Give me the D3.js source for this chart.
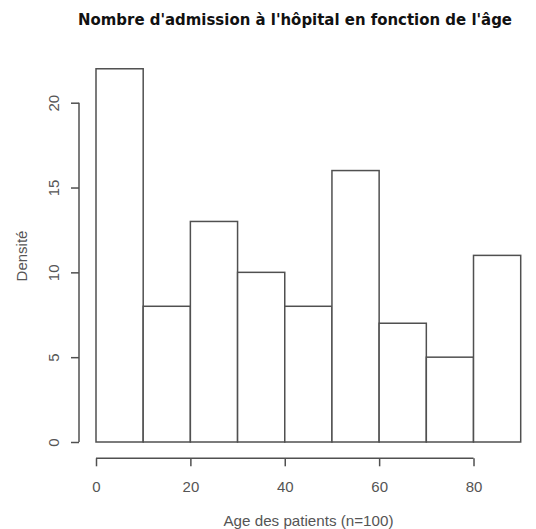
<!DOCTYPE html>
<html>
<head>
<meta charset="utf-8">
<script src="https://cdn.jsdelivr.net/npm/d3@7"></script>
<style>
    body { margin: 0; background: #fff; }
    svg { display: block; font-family: "Liberation Sans", Arial, sans-serif; }
</style>
</head>
<body>
<svg width="536" height="529"></svg>
<script>
    // histogram bins (age classes) and counts
    var binStarts = [0, 10, 20, 30, 40, 50, 60, 70, 80];
    var binWidth = 10;
    var counts = [22, 8, 13, 10, 8, 16, 7, 5, 11];
    var xTicks = [0, 20, 40, 60, 80];
    var yTicks = [0, 5, 10, 15, 20];

    var svg = d3.select("svg");

    var x = d3.scaleLinear().domain([0, 90]).range([96, 520.7]);
    var y = d3.scaleLinear().domain([0, 20]).range([442, 102.7]);

    var data = binStarts.map(function (b, i) { return {x0: b, x1: b + binWidth, n: counts[i]}; });

    svg.append("g")
        .selectAll("rect")
        .data(data)
        .enter().append("rect")
        .attr("x", function (d) { return x(d.x0); })
        .attr("y", function (d) { return y(d.n); })
        .attr("width", function (d) { return x(d.x1) - x(d.x0); })
        .attr("height", function (d) { return y(0) - y(d.n); })
        .attr("fill", "#fff")
        .attr("stroke", "#505050")
        .attr("stroke-width", 1.5);

    // x axis (R style: detached below plot)
    var gx = svg.append("g")
        .attr("transform", "translate(0,458.3)")
        .call(d3.axisBottom(x).tickValues(xTicks).tickSize(8).tickSizeOuter(0));
    gx.select(".domain").attr("d", "M" + x(0) + ",0H" + x(80)).attr("stroke", "#505050").attr("stroke-width", 1.5);
    gx.selectAll(".tick line").attr("stroke", "#505050").attr("stroke-width", 1.5);
    gx.selectAll(".tick text")
        .attr("fill", "#555")
        .attr("font-size", 15)
        .attr("y", 34)
        .attr("dy", null);

    // y axis
    var gy = svg.append("g")
        .attr("transform", "translate(79,0)")
        .call(d3.axisLeft(y).tickValues(yTicks).tickSize(8).tickSizeOuter(0));
    gy.select(".domain").attr("d", "M0," + y(0) + "V" + y(20)).attr("stroke", "#505050").attr("stroke-width", 1.5);
    gy.selectAll(".tick line").attr("stroke", "#505050").attr("stroke-width", 1.5);
    gy.selectAll(".tick text")
        .attr("fill", "#555")
        .attr("font-size", 15)
        .attr("x", null)
        .attr("text-anchor", "middle")
        .attr("transform", "translate(-25,0) rotate(-90)")
        .attr("dy", "0.35em");

    svg.append("text")
        .attr("x", 295)
        .attr("y", 25)
        .attr("text-anchor", "middle")
        .attr("font-family", "'DejaVu Sans', sans-serif")
        .attr("font-weight", "bold")
        .attr("font-size", 15)
        .attr("textLength", 434)
        .attr("lengthAdjust", "spacingAndGlyphs")
        .attr("fill", "#111")
        .text("Nombre d'admission à l'hôpital en fonction de l'âge");

    svg.append("text")
        .attr("x", 308.5)
        .attr("y", 526)
        .attr("text-anchor", "middle")
        .attr("font-size", 15)
        .attr("textLength", 170)
        .attr("lengthAdjust", "spacingAndGlyphs")
        .attr("fill", "#555")
        .text("Age des patients (n=100)");

    svg.append("text")
        .attr("transform", "translate(26.5,256) rotate(-90)")
        .attr("text-anchor", "middle")
        .attr("font-size", 15)
        .attr("fill", "#555")
        .text("Densité");
</script>
</body>
</html>
